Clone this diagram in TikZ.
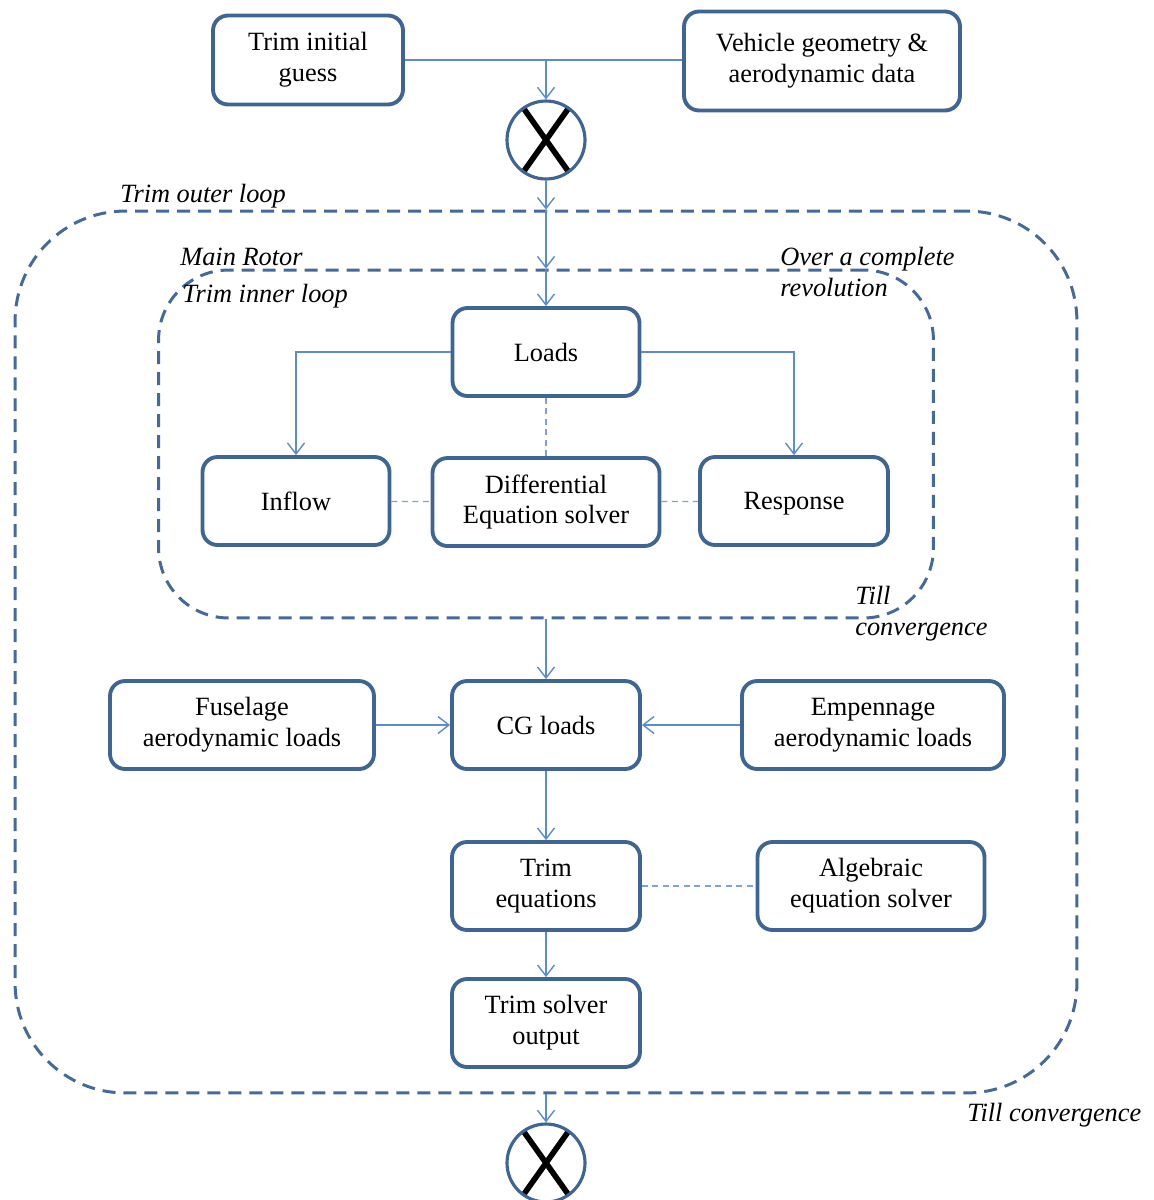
\documentclass[tikz,border=0pt]{standalone}
\usepackage{fontspec}
\setmainfont{Liberation Serif}
\usetikzlibrary{arrows.meta, positioning, calc}
\definecolor{boxblue}{HTML}{3F6594}
\definecolor{linkblue}{HTML}{5B8BD0}
\definecolor{loopblue}{HTML}{46699A}
\tikzset{every node/.append style={align=center, inner sep=3pt}}

\begin{document}
\begin{tikzpicture}[
    x=0.02cm, y=-0.02cm,
    font=\fontsize{15}{17.5}\selectfont,
    blk/.style={rectangle, rounded corners=0.3cm, draw=boxblue, fill=white,
        line width=2.2pt, minimum width=3.76cm, minimum height=1.76cm},
    mult/.style={circle, draw=boxblue, fill=white, line width=1.8pt,
        minimum size=1.56cm, inner sep=0pt,
        path picture={\draw[black, line width=3.2pt]
          ($(path picture bounding box.center)+(-22,-31)$) -- ($(path picture bounding box.center)+(22,31)$)
          ($(path picture bounding box.center)+(22,-31)$) -- ($(path picture bounding box.center)+(-22,31)$);}},
    loopbox/.style={rectangle, draw=loopblue, dash pattern=on 0.26cm off 0.16cm,
        line width=1.7pt},
    looptag/.style={font=\fontsize{15}{17.5}\selectfont\itshape, align=left,
        inner sep=0pt, anchor=west},
    arr/.style={-{Straight Barb[length=2.2mm, width=3.4mm]}, line width=0.8pt, linkblue},
    ln/.style={line width=0.8pt, linkblue},
    dsh/.style={line width=0.7pt, linkblue!80, dash pattern=on 1.2mm off 0.9mm}
]
\useasboundingbox (0,0) rectangle (1153,1200);

% ===== LOOPS =====
\node[loopbox, rounded corners=2.2cm, minimum width=21.24cm, minimum height=17.64cm]
    (outer) at (546,652) {};
\node[loopbox, rounded corners=1.4cm, minimum width=15.5cm, minimum height=6.96cm]
    (inner) at (546,444) {};
\node[looptag] (outerlbl) at (120,196) {Trim outer loop};
\node[looptag] (rotorlbl) at (180,257) {Main Rotor};
\node[looptag] (innerlbl) at (182,296) {Trim inner loop};
\node[looptag] (revlbl) at (780,272) {Over a complete\\revolution};
\node[looptag] (innerconv) at (855,614) {Till\\convergence};
\node[looptag] (outerconv) at (967,1115) {Till convergence};

% ===== INPUTS (top) =====
\node[blk, minimum width=3.8cm, minimum height=1.78cm] (guess) at (308,60) {Trim initial\\guess};
\node[blk, minimum width=5.52cm, minimum height=1.98cm] (vehicle) at (822,61)
    {Vehicle geometry \&\\aerodynamic data};
\node[mult] (xin) at (546,140) {};
\draw[ln] (guess.east) -- (guess.east -| vehicle.west);
\draw[arr] (guess.east -| xin) -- (xin);
\draw[arr] (xin) -- (outer.north);
\draw[arr] (outer.north) -- (inner.north);

% ===== MAIN ROTOR (inner loop) =====
\node[blk, minimum width=3.74cm] (loads) at (546,352) {Loads};
\node[blk, minimum width=3.74cm] (inflow) at (296,501) {Inflow};
\node[blk, minimum width=4.54cm] (diffeq) at (546,502) {Differential\\Equation solver};
\node[blk, minimum width=3.76cm, text depth=0pt] (response) at (794,501) {Response};
\draw[arr] (inner.north) -- (loads);
\draw[arr] (loads.west) -| (inflow.north);
\draw[arr] (loads.east) -| (response.north);
\draw[dsh] (loads) -- (diffeq);
\draw[dsh] (inflow) -- (diffeq);
\draw[dsh] (diffeq) -- (response);

% ===== TRIM (outer loop) =====
\node[blk, minimum width=5.28cm] (fuselage) at (242,725) {Fuselage\\aerodynamic loads};
\node[blk, minimum width=3.76cm] (cgloads) at (546,725) {CG loads};
\node[blk, minimum width=5.24cm] (empennage) at (873,725) {Empennage\\aerodynamic loads};
\node[blk, minimum width=3.76cm] (trimeq) at (546,886) {Trim\\equations};
\node[blk, minimum width=4.54cm] (algebraic) at (871,886) {Algebraic\\equation solver};
\node[blk, minimum width=3.76cm] (trimout) at (546,1023) {Trim solver\\output};
\node[mult] (xout) at (546,1163) {};
\draw[arr] (inner.south) -- (cgloads);
\draw[arr] (fuselage) -- (cgloads);
\draw[arr] (empennage) -- (cgloads);
\draw[arr] (cgloads) -- (trimeq);
\draw[dsh] (trimeq) -- (algebraic);
\draw[arr] (trimeq) -- (trimout);
\draw[arr] (outer.south) -- (xout);
\end{tikzpicture}
\end{document}
